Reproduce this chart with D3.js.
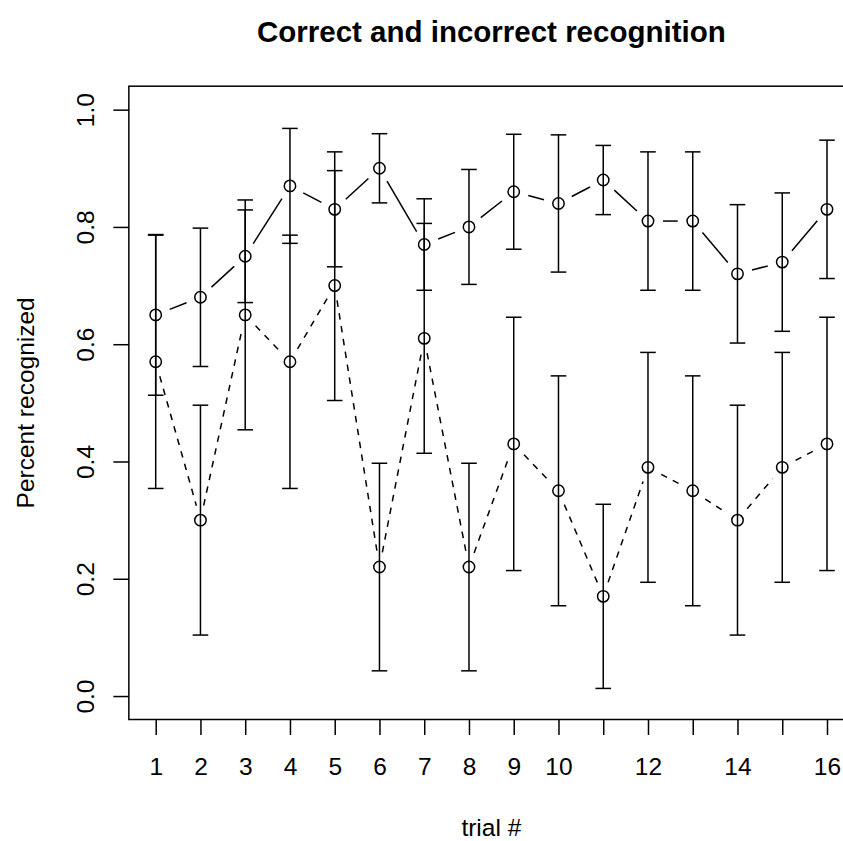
<!DOCTYPE html>
<html>
<head>
<meta charset="utf-8">
<script src="https://cdn.jsdelivr.net/npm/d3@7"></script>
<style>
  html, body { margin: 0; padding: 0; background: #fff; }
  svg { display: block; }
  text { font-family: "Liberation Sans", Arial, sans-serif; fill: #000; }
</style>
</head>
<body>
<svg id="chart" width="843" height="841"></svg>
<script>
// Trials 1..16
const trials = [1, 2, 3, 4, 5, 6, 7, 8, 9, 10, 11, 12, 13, 14, 15, 16];

// Proportion recognized correctly, with error-bar half-widths
const correct    = [0.65, 0.68, 0.75, 0.87, 0.83, 0.90, 0.77, 0.80, 0.86, 0.84, 0.88, 0.81, 0.81, 0.72, 0.74, 0.83];
const correctErr = [0.137, 0.118, 0.079, 0.098, 0.098, 0.059, 0.078, 0.098, 0.098, 0.117, 0.059, 0.118, 0.118, 0.118, 0.118, 0.118];

// Proportion recognized incorrectly, with error-bar half-widths
const incorrect    = [0.57, 0.30, 0.65, 0.57, 0.70, 0.22, 0.61, 0.22, 0.43, 0.35, 0.17, 0.39, 0.35, 0.30, 0.39, 0.43];
const incorrectErr = [0.216, 0.196, 0.196, 0.216, 0.196, 0.177, 0.196, 0.177, 0.216, 0.196, 0.157, 0.196, 0.196, 0.196, 0.196, 0.216];

// Axis ticks and which x ticks carry a label
const yTicks = [0, 0.2, 0.4, 0.6, 0.8, 1.0];
const xLabelled = [1, 2, 3, 4, 5, 6, 7, 8, 9, 10, 12, 14, 16];

const titleText = "Correct and incorrect recognition";
const xTitle = "trial #";
const yTitle = "Percent recognized";

const svg = d3.select("#chart");
const FS = 24.5;          // axis text size
const LW = 1.5;           // line width
const TICK = 15.5;        // tick length
const GAP = 15;           // gap between connecting line and point
const R = 5.7;            // point radius
const CAP = 7.8;          // error-bar cap half-width

const x = d3.scaleLinear().domain([0.4, 16.6]).range([128.85, 853.85]);
const y = d3.scaleLinear().domain([-0.04, 1.04]).range([719.5, 86.2]);

// Plot box
svg.append("rect")
  .attr("x", x(0.4)).attr("y", y(1.04))
  .attr("width", x(16.6) - x(0.4)).attr("height", y(-0.04) - y(1.04))
  .attr("fill", "none").attr("stroke", "#000").attr("stroke-width", LW);

// X axis
const gx = svg.append("g")
  .attr("transform", `translate(0,${y(-0.04)})`)
  .call(d3.axisBottom(x).tickValues(trials).tickSize(TICK).tickSizeOuter(0)
    .tickFormat(d => xLabelled.includes(d) ? String(d) : ""));
gx.select(".domain").remove();
gx.selectAll(".tick line").attr("stroke", "#000").attr("stroke-width", LW);
gx.selectAll(".tick text")
  .attr("y", 55.5).attr("dy", null)
  .attr("font-size", FS).attr("font-family", "Liberation Sans, Arial, sans-serif")
  .attr("fill", "#000");

// Y axis
const gy = svg.append("g")
  .attr("transform", `translate(${x(0.4)},0)`)
  .call(d3.axisLeft(y).tickValues(yTicks).tickSize(TICK).tickSizeOuter(0)
    .tickFormat(d3.format(".1f")));
gy.select(".domain").remove();
gy.selectAll(".tick line").attr("stroke", "#000").attr("stroke-width", LW);
gy.selectAll(".tick text")
  .attr("x", null).attr("dy", null)
  .attr("transform", "translate(-35.3,0) rotate(-90)")
  .attr("text-anchor", "middle")
  .attr("font-size", FS).attr("font-family", "Liberation Sans, Arial, sans-serif")
  .attr("fill", "#000");

// Titles
svg.append("text")
  .attr("x", (x(0.4) + x(16.6)) / 2).attr("y", 41.5)
  .attr("text-anchor", "middle")
  .attr("font-size", 29.5).attr("font-weight", "bold")
  .text(titleText);

svg.append("text")
  .attr("x", (x(0.4) + x(16.6)) / 2).attr("y", 836)
  .attr("text-anchor", "middle")
  .attr("font-size", FS)
  .text(xTitle);

svg.append("text")
  .attr("transform", `translate(33.5,${(y(-0.04) + y(1.04)) / 2}) rotate(-90)`)
  .attr("text-anchor", "middle")
  .attr("font-size", FS)
  .text(yTitle);

// One series: connecting segments with gaps at the points, error bars, open circles
function drawSeries(vals, errs, dash) {
  const g = svg.append("g");
  const pts = vals.map((v, i) => [x(trials[i]), y(v)]);
  for (let i = 0; i < pts.length - 1; i++) {
    const [x0, y0] = pts[i], [x1, y1] = pts[i + 1];
    const dx = x1 - x0, dy = y1 - y0, len = Math.hypot(dx, dy);
    if (len <= 2 * GAP) continue;
    const ux = dx / len, uy = dy / len;
    g.append("line")
      .attr("x1", x0 + ux * GAP).attr("y1", y0 + uy * GAP)
      .attr("x2", x1 - ux * GAP).attr("y2", y1 - uy * GAP)
      .attr("stroke", "#000").attr("stroke-width", LW)
      .attr("stroke-dasharray", dash);
  }
  vals.forEach((v, i) => {
    const cx = x(trials[i]);
    const lo = y(v - errs[i]), hi = y(v + errs[i]);
    g.append("line").attr("x1", cx).attr("x2", cx).attr("y1", lo).attr("y2", hi)
      .attr("stroke", "#000").attr("stroke-width", LW);
    [lo, hi].forEach(yy => g.append("line")
      .attr("x1", cx - CAP).attr("x2", cx + CAP).attr("y1", yy).attr("y2", yy)
      .attr("stroke", "#000").attr("stroke-width", LW));
  });
  g.selectAll("circle").data(pts).join("circle")
    .attr("cx", d => d[0]).attr("cy", d => d[1]).attr("r", R)
    .attr("fill", "none").attr("stroke", "#000").attr("stroke-width", LW);
}

drawSeries(correct, correctErr, null);
drawSeries(incorrect, incorrectErr, "6.5,6.5");
</script>
</body>
</html>
